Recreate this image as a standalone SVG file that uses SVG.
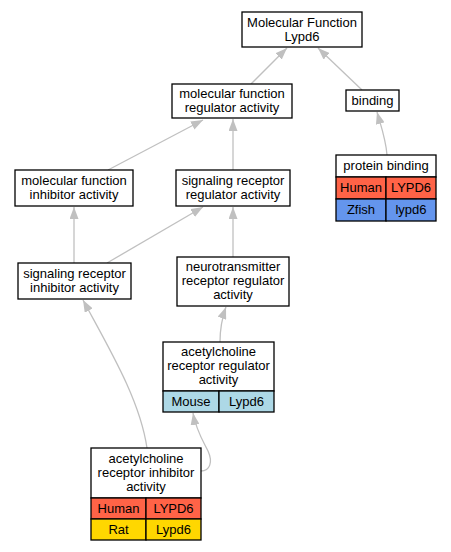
<svg xmlns="http://www.w3.org/2000/svg" width="451" height="552" viewBox="0 0 451 552">
<style>
.box{fill:#fff;stroke:#000;stroke-width:1.3}
.human{fill:#ff6347;stroke:#000;stroke-width:1.3}
.zfish{fill:#6495ed;stroke:#000;stroke-width:1.3}
.mouse{fill:#add8e6;stroke:#000;stroke-width:1.3}
.rat{fill:#ffd700;stroke:#000;stroke-width:1.3}
text{font-family:"Liberation Sans",Arial,sans-serif;font-size:13px;text-anchor:middle;fill:#000}
.edge{fill:none;stroke:#c0c0c0;stroke-width:1.3;marker-end:url(#arr)}
</style>
<defs>
<marker id="arr" viewBox="0 0 12 9" refX="12" refY="4.5" markerWidth="12" markerHeight="9" markerUnits="userSpaceOnUse" orient="auto">
<path d="M0,0 L12,4.5 L0,9 z" fill="#c0c0c0"/>
</marker>
</defs>
<rect width="451" height="552" fill="#fff"/>
<g id="edges">
<path class="edge" d="M251,84 L287,48"/>
<path class="edge" d="M362,90 L318,48"/>
<path class="edge" d="M387,155 C386,140 381,126 377,112"/>
<path class="edge" d="M108,170 L203,120"/>
<path class="edge" d="M233,170 L233,119"/>
<path class="edge" d="M74,263 L74,207"/>
<path class="edge" d="M107,263 L203,207"/>
<path class="edge" d="M233,257 L233,207"/>
<path class="edge" d="M220,342 C220,330 222,318 226,307"/>
<path class="edge" d="M147,448 C140,400 110,350 83,300"/>
<path class="edge" d="M201,471 C210,471 213,462 208,451 C203,441 196,430 193,413"/>
</g>
<g id="n1">
<rect class="box" x="242" y="12" width="120" height="35"/>
<text x="302" y="27">Molecular Function</text>
<text x="302" y="41">Lypd6</text>
</g>
<g id="n2">
<rect class="box" x="172" y="84" width="120" height="34"/>
<text x="232" y="98">molecular function</text>
<text x="232" y="112">regulator activity</text>
</g>
<g id="n3">
<rect class="box" x="346" y="90" width="53" height="21"/>
<text x="372.5" y="105">binding</text>
</g>
<g id="n4">
<rect class="box" x="336" y="155" width="100" height="22"/>
<text x="386" y="170">protein binding</text>
<rect class="human" x="336" y="177" width="50" height="22"/>
<rect class="human" x="386" y="177" width="50" height="22"/>
<text x="361" y="192">Human</text>
<text x="411" y="192">LYPD6</text>
<rect class="zfish" x="336" y="199" width="50" height="22"/>
<rect class="zfish" x="386" y="199" width="50" height="22"/>
<text x="361" y="214">Zfish</text>
<text x="411" y="214">lypd6</text>
</g>
<g id="n5">
<rect class="box" x="15" y="170" width="118" height="36"/>
<text x="74" y="185">molecular function</text>
<text x="74" y="199">inhibitor activity</text>
</g>
<g id="n6">
<rect class="box" x="176" y="170" width="114" height="36"/>
<text x="233" y="185">signaling receptor</text>
<text x="233" y="199">regulator activity</text>
</g>
<g id="n7">
<rect class="box" x="18" y="263" width="113" height="36"/>
<text x="74.5" y="278">signaling receptor</text>
<text x="74.5" y="292">inhibitor activity</text>
</g>
<g id="n8">
<rect class="box" x="177" y="257" width="112" height="49"/>
<text x="233" y="271">neurotransmitter</text>
<text x="233" y="285">receptor regulator</text>
<text x="233" y="299">activity</text>
</g>
<g id="n9">
<rect class="box" x="163" y="342" width="111" height="49"/>
<text x="218.5" y="356">acetylcholine</text>
<text x="218.5" y="370">receptor regulator</text>
<text x="218.5" y="384">activity</text>
<rect class="mouse" x="163" y="391" width="56" height="21"/>
<rect class="mouse" x="219" y="391" width="55" height="21"/>
<text x="191" y="406">Mouse</text>
<text x="246.5" y="406">Lypd6</text>
</g>
<g id="n10">
<rect class="box" x="91" y="448" width="110" height="50"/>
<text x="146" y="463">acetylcholine</text>
<text x="146" y="477">receptor inhibitor</text>
<text x="146" y="491">activity</text>
<rect class="human" x="91" y="498" width="55" height="21"/>
<rect class="human" x="146" y="498" width="55" height="21"/>
<text x="118.5" y="513">Human</text>
<text x="173.5" y="513">LYPD6</text>
<rect class="rat" x="91" y="519" width="55" height="21"/>
<rect class="rat" x="146" y="519" width="55" height="21"/>
<text x="118.5" y="534">Rat</text>
<text x="173.5" y="534">Lypd6</text>
</g>
</svg>
